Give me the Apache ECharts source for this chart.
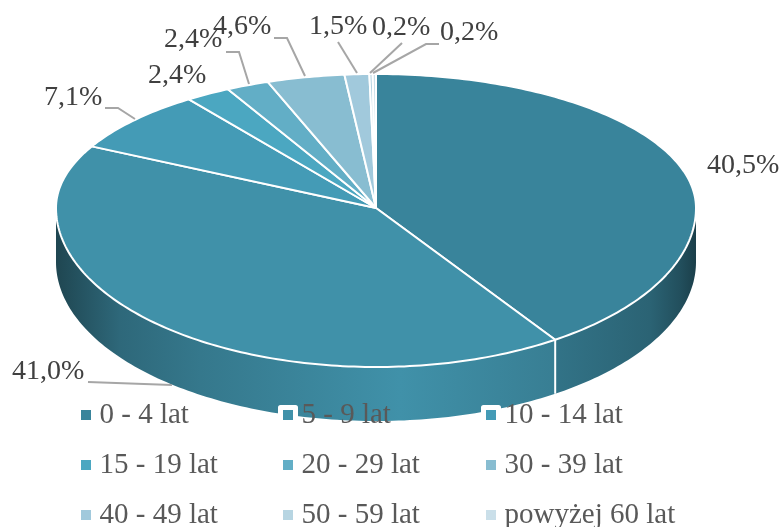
<!DOCTYPE html>
<html>
<head>
<meta charset="utf-8">
<style>
  html, body { margin: 0; padding: 0; background: #fff; }
  #chart { width: 783px; height: 527px; }
</style>
<script src="https://cdn.jsdelivr.net/npm/echarts@6/dist/echarts.min.js"></script>
</head>
<body>
<div id="chart"></div>
<script>
const categories = ['0 - 4 lat', '5 - 9 lat', '10 - 14 lat', '15 - 19 lat', '20 - 29 lat', '30 - 39 lat', '40 - 49 lat', '50 - 59 lat', 'powyżej 60 lat']
const shares = [40.5, 41.0, 7.1, 2.4, 2.4, 4.6, 1.5, 0.2, 0.2]
const colors = ['#39849b', '#4091a9', '#449bb6', '#4ba7c1', '#62aec6', '#88bdd1', '#a1c9dc', '#b7d5e2', '#cadfe9']

// pie drawn by hand, ECharts has no tilted pie without echarts-gl
const CX = 376, CY = 208, RX = 320, RY_BACK = 134, RY_FRONT = 159, DEPTH = 54
const FONT = '"Liberation Serif", "Times New Roman", serif'

// [x, y] of label text (left, middle) and its leader line
const labelLayout = [
  { x: 707, y: 166, line: null },
  { x: 12, y: 372, line: [[88, 382], [172, 385]] },
  { x: 44, y: 98, line: [[105, 108], [118, 108], [135, 119]] },
  { x: 148, y: 76, line: null },
  { x: 164, y: 40, line: [[226, 52], [239, 52], [249, 84]] },
  { x: 213, y: 27, line: [[274, 38], [287, 38], [305, 76]] },
  { x: 309, y: 27, line: [[338, 42], [357, 73]] },
  { x: 372, y: 28, line: [[402, 43], [370, 73]] },
  { x: 440, y: 33, line: [[439, 44], [426, 44], [373, 73]] },
]

// side wall brightness across the pie width
const wallShade = [[56, 0.48], [120, 0.72], [200, 0.83], [400, 1], [556, 0.87], [650, 0.75], [680, 0.6], [696, 0.48]]

const total = shares.reduce((a, b) => a + b, 0)
const startAngle = (i) => shares.slice(0, i).reduce((a, b) => a + b, 0) / total * 360

// back left quarter looks stretched because of the perspective
function skew(deg) {
  if (deg <= 270 || deg >= 360) return deg
  return deg - 5 * Math.sin(2 * deg * Math.PI / 180)
}

function rim(deg) {
  const t = skew(deg) * Math.PI / 180
  const c = Math.cos(t)
  return [CX + RX * Math.sin(t), CY - c * (c > 0 ? RY_BACK : RY_FRONT)]
}

function arc(from, to) {
  const pts = []
  for (let d = from; d < to; d += 1) pts.push(rim(d))
  pts.push(rim(to))
  return pts
}

function shade(hex, k) {
  const n = parseInt(hex.slice(1), 16)
  const ch = [n >> 16, (n >> 8) & 255, n & 255].map((v) => Math.round(v * k))
  return `rgb(${ch[0]},${ch[1]},${ch[2]})`
}

function wallFill(color) {
  return {
    type: 'linear',
    global: true,
    x: 56, y: 0, x2: 696, y2: 0,
    colorStops: wallShade.map((s) => ({ offset: (s[0] - 56) / 640, color: shade(color, s[1]) })),
  }
}

function renderWall(params, api) {
  const i = params.dataIndex
  const from = Math.max(startAngle(i), 90)
  const to = Math.min(startAngle(i) + api.value(0) / total * 360, 270)
  if (to <= from) return { type: 'group', children: [] }
  const top = arc(from, to)
  const bottom = top.map((p) => [p[0], p[1] + DEPTH]).reverse()
  const children = [{
    type: 'polygon',
    shape: { points: top.concat(bottom) },
    style: { fill: wallFill(colors[i]) },
  }]
  // white seam between two walls
  if (from > 90) {
    children.push({
      type: 'line',
      shape: { x1: top[0][0], y1: top[0][1], x2: top[0][0], y2: top[0][1] + DEPTH },
      style: { stroke: '#fff', lineWidth: 2 },
    })
  }
  return { type: 'group', children }
}

function renderSlice(i) {
  return function (params, api) {
    const from = startAngle(i)
    const to = from + api.value(0) / total * 360
    return {
      type: 'polygon',
      shape: { points: [[CX, CY]].concat(arc(from, to)) },
      style: { fill: colors[i], stroke: '#fff', lineWidth: 2, lineJoin: 'round' },
    }
  }
}

function renderLabel(params, api) {
  const pos = labelLayout[params.dataIndex]
  const text = api.value(0).toFixed(1).replace('.', ',') + '%'
  const children = [{
    type: 'text',
    style: { text, x: pos.x, y: pos.y, fill: '#404040', font: `28px ${FONT}`, align: 'left', verticalAlign: 'middle' },
  }]
  if (pos.line) {
    children.push({
      type: 'polyline',
      shape: { points: pos.line },
      style: { fill: 'none', stroke: '#a6a6a6', lineWidth: 2 },
    })
  }
  return { type: 'group', children }
}

function legendColumn(left, names) {
  return {
    left,
    top: 400,
    height: 160,
    orient: 'vertical',
    padding: 0,
    itemWidth: 15,
    itemHeight: 15,
    itemGap: 20,
    icon: 'rect',
    selectedMode: false,
    z: 20,
    itemStyle: { borderColor: '#fff', borderWidth: 5, borderJoin: 'round' },
    textStyle: { color: '#595959', fontFamily: FONT, fontSize: 29, lineHeight: 30, padding: [0, 0, 0, 1] },
    data: names,
  }
}

const chartInstance = echarts.init(document.getElementById('chart'), null, { renderer: 'canvas' })

const sliceSeries = categories.map((name, i) => ({
  name,
  type: 'custom',
  coordinateSystem: 'none',
  z: 3,
  silent: true,
  itemStyle: { color: colors[i] },
  renderItem: renderSlice(i),
  data: [[shares[i]]],
}))

chartInstance.setOption({
  animation: false,
  backgroundColor: '#fff',
  legend: [
    legendColumn(76, [categories[0], categories[3], categories[6]]),
    legendColumn(278, [categories[1], categories[4], categories[7]]),
    legendColumn(481, [categories[2], categories[5], categories[8]]),
  ],
  series: [
    {
      name: 'wall',
      type: 'custom',
      coordinateSystem: 'none',
      z: 2,
      silent: true,
      renderItem: renderWall,
      data: shares.map((v) => [v]),
    },
    ...sliceSeries,
    {
      name: 'labels',
      type: 'custom',
      coordinateSystem: 'none',
      z: 4,
      silent: true,
      renderItem: renderLabel,
      data: shares.map((v) => [v]),
    },
  ],
})
</script>
</body>
</html>
